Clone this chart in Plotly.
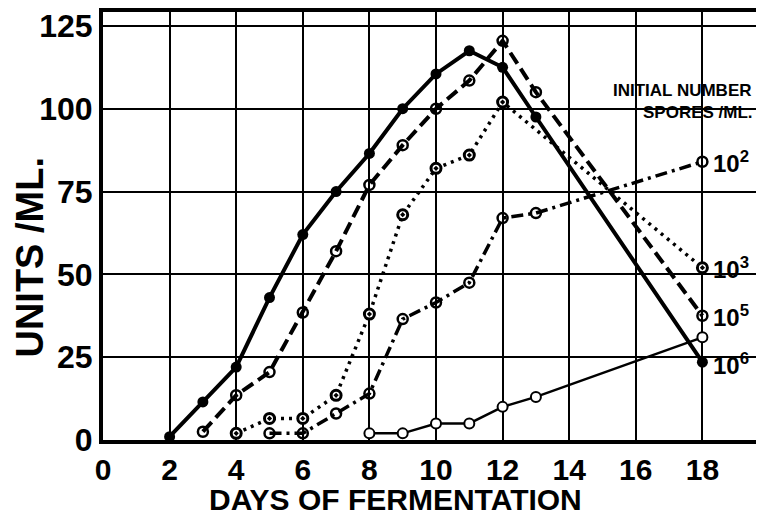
import plotly.graph_objects as go

# days of fermentation and units/ml for each initial spore count
days_a = [2, 3, 4, 5, 6, 7, 8, 9, 10, 11, 12, 13, 18]
units_a = [1, 11.5, 22, 43, 62, 75, 86.5, 100, 110.5, 117.5, 112.5, 97.5, 23.5]

days_b = [3, 4, 5, 6, 7, 8, 9, 10, 11, 12, 13, 18]
units_b = [2.5, 13.5, 20.5, 38.5, 57, 77, 89, 100, 108.5, 120.5, 105, 37.5]

days_c = [4, 5, 6, 7, 8, 9, 10, 11, 12, 18]
units_c = [2, 6.5, 6.5, 13.5, 38, 68, 82, 86, 102, 52]

days_d = [5, 6, 7, 8, 9, 10, 11, 12, 13, 18]
units_d = [2, 2, 8, 14, 36.5, 41.5, 47.5, 67, 68.5, 84]

days_e = [8, 9, 10, 11, 12, 13, 18]
units_e = [2, 2, 5, 5, 10, 13, 31]

x_ticks = [0, 2, 4, 6, 8, 10, 12, 14, 16, 18]
y_ticks = [0, 25, 50, 75, 100, 125]

end_labels = ["10<sup>2</sup>", "10<sup>3</sup>", "10<sup>5</sup>", "10<sup>6</sup>"]
label_y = [84, 52, 37.5, 23]

FONT = "Liberation Sans"
fig = go.Figure()

fig.add_trace(go.Scatter(x=days_e, y=units_e, mode="lines+markers", cliponaxis=False,
                         line=dict(color="black", width=2.5),
                         marker=dict(size=10, color="white", line=dict(color="black", width=2))))
fig.add_trace(go.Scatter(x=days_d, y=units_d, mode="lines+markers", cliponaxis=False,
                         line=dict(color="black", width=3.5, dash="12px,5px,3px,5px"),
                         marker=dict(size=10, symbol="circle-open", color="black", line=dict(width=2.5))))
fig.add_trace(go.Scatter(x=days_c, y=units_c, mode="lines+markers", cliponaxis=False,
                         line=dict(color="black", width=3.5, dash="3px,5px"),
                         marker=dict(size=10, color="white", symbol="circle-dot", line=dict(color="black", width=3))))
fig.add_trace(go.Scatter(x=days_b, y=units_b, mode="lines+markers", cliponaxis=False,
                         line=dict(color="black", width=4, dash="13px,6px"),
                         marker=dict(size=10, symbol="circle-open", color="black", line=dict(width=2.5))))
fig.add_trace(go.Scatter(x=days_a, y=units_a, mode="lines+markers", cliponaxis=False,
                         line=dict(color="black", width=4),
                         marker=dict(size=11, color="black")))

for txt, yv in zip(end_labels, label_y):
    fig.add_annotation(x=18.25, y=yv, text=txt, showarrow=False, xanchor="left", yanchor="middle",
                       font=dict(family=FONT, size=24, color="black", weight="bold"))

fig.add_annotation(x=15.25, y=105.5, text="INITIAL NUMBER", showarrow=False, xanchor="left", yanchor="middle",
                   font=dict(family=FONT, size=17, color="black", weight="bold"))
fig.add_annotation(x=16.15, y=99, text="SPORES /ML.", showarrow=False, xanchor="left", yanchor="middle",
                   font=dict(family=FONT, size=17, color="black", weight="bold"))

# axis titles
fig.add_annotation(x=0.443, xref="paper", y=-0.139, yref="paper", text="DAYS OF FERMENTATION",
                   showarrow=False, xanchor="center", yanchor="middle",
                   font=dict(family=FONT, size=30, color="black", weight="bold"))
fig.add_annotation(x=-0.11, xref="paper", y=0.427, yref="paper", text="UNITS /ML.", textangle=-90,
                   showarrow=False, xanchor="center", yanchor="middle",
                   font=dict(family=FONT, size=38, color="black", weight="bold"))

fig.update_layout(
    width=756, height=510,
    margin=dict(l=95, r=0, t=1, b=78),
    paper_bgcolor="white", plot_bgcolor="white",
    showlegend=False,
    font=dict(family=FONT, color="black"),
)
fig.update_xaxes(range=[0, 19.85], tickvals=x_ticks, ticks="", ticklen=0,
                 showgrid=True, gridcolor="black", gridwidth=2,
                 showline=True, linecolor="black", linewidth=4, mirror=True,
                 zeroline=False,
                 tickfont=dict(family=FONT, size=30, color="black", weight="bold"))
fig.update_yaxes(range=[0, 129.2], tickvals=y_ticks, ticks="", ticklen=0,
                 showgrid=True, gridcolor="black", gridwidth=2,
                 showline=True, linecolor="black", linewidth=4,
                 zeroline=False,
                 tickfont=dict(family=FONT, size=32, color="black", weight="bold"))

fig.write_html("out.html")
